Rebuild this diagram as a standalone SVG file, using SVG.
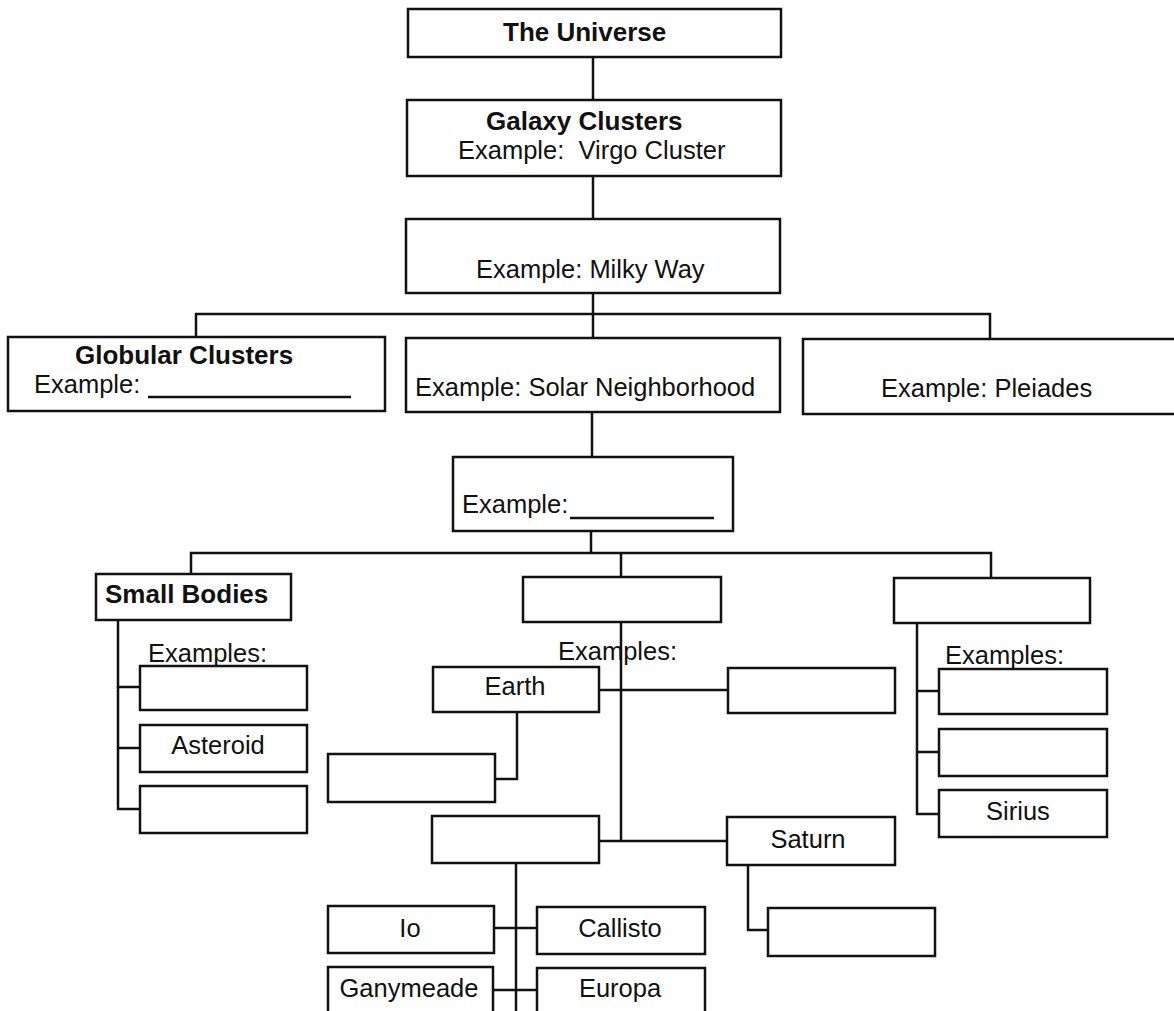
<svg xmlns="http://www.w3.org/2000/svg" width="1174" height="1011" viewBox="0 0 1174 1011">
<style>
rect.n{fill:#fff;stroke:#111;stroke-width:2.5}
line,polyline{stroke:#111;stroke-width:2.5;fill:none}
text{font-family:"Liberation Sans",Arial,sans-serif;font-size:25.5px;fill:#111;white-space:pre}
.b{font-weight:bold;font-size:26px}
.m{text-anchor:middle}
</style>
<rect width="1174" height="1011" fill="#fff"/>
<g id="connectors">
<line x1="593" y1="57" x2="593" y2="100"/>
<line x1="593" y1="176" x2="593" y2="219"/>
<line x1="593" y1="293" x2="593" y2="338"/>
<polyline points="196,337 196,314 990,314 990,339"/>
<line x1="592" y1="412" x2="592" y2="457"/>
<line x1="591" y1="531" x2="591" y2="553"/>
<polyline points="191,574 191,553 991,553 991,578"/>
<line x1="621" y1="553" x2="621" y2="577"/>
<polyline points="140,687 118,687 118,620"/>
<line x1="118" y1="748" x2="140" y2="748"/>
<polyline points="118,687 118,809 140,809"/>
<line x1="621" y1="622" x2="621" y2="841"/>
<line x1="599" y1="690" x2="728" y2="690"/>
<polyline points="517,712 517,779 495,779"/>
<line x1="599" y1="841" x2="727" y2="841"/>
<polyline points="748,865 748,930 768,930"/>
<line x1="516" y1="863" x2="516" y2="1011"/>
<line x1="494" y1="928" x2="537" y2="928"/>
<line x1="493" y1="990" x2="537" y2="990"/>
<polyline points="917,623 917,814 939,814"/>
<line x1="917" y1="691" x2="939" y2="691"/>
<line x1="917" y1="752" x2="939" y2="752"/>
</g>
<g id="universe"><rect class="n" x="408" y="9" width="373" height="48"/><text class="b" x="503" y="41">The Universe</text></g>
<g id="galaxy-clusters"><rect class="n" x="407" y="100" width="374" height="76"/><text class="b" x="486" y="130">Galaxy Clusters</text><text x="458" y="159">Example:  Virgo Cluster</text></g>
<g id="galaxy"><rect class="n" x="406" y="219" width="374" height="74"/><text x="476" y="278">Example: Milky Way</text></g>
<g id="globular"><rect class="n" x="8" y="337" width="377" height="74"/><text class="b" x="75" y="364">Globular Clusters</text><text x="34" y="393">Example: </text><line x1="148" y1="397" x2="351" y2="397"/></g>
<g id="solar-neighborhood"><rect class="n" x="406" y="338" width="374" height="74"/><text x="415" y="396">Example: Solar Neighborhood</text></g>
<g id="open-clusters"><rect class="n" x="803" y="339" width="380" height="75"/><text x="881" y="397">Example: Pleiades</text></g>
<g id="solar-system"><rect class="n" x="453" y="457" width="280" height="74"/><text x="462" y="513">Example:</text><line x1="570" y1="518" x2="714" y2="518"/></g>
<g id="small-bodies"><rect class="n" x="96" y="574" width="195" height="46"/><text class="b" x="105" y="603">Small Bodies</text><text x="148" y="662">Examples:</text></g>
<g id="sb1"><rect class="n" x="140" y="666" width="167" height="44"/></g>
<g id="sb2"><rect class="n" x="140" y="725" width="167" height="47"/><text class="m" x="218" y="754">Asteroid</text></g>
<g id="sb3"><rect class="n" x="140" y="786" width="167" height="47"/></g>
<g id="planets"><rect class="n" x="523" y="577" width="198" height="45"/><text x="558" y="660">Examples:</text></g>
<g id="earth"><rect class="n" x="433" y="667" width="166" height="45"/><text class="m" x="515" y="695">Earth</text></g>
<g id="planet-r1"><rect class="n" x="728" y="668" width="167" height="45"/></g>
<g id="moon"><rect class="n" x="328" y="754" width="167" height="48"/></g>
<g id="jupiter"><rect class="n" x="432" y="816" width="167" height="47"/></g>
<g id="saturn"><rect class="n" x="727" y="817" width="168" height="48"/><text class="m" x="808" y="848">Saturn</text></g>
<g id="titan"><rect class="n" x="768" y="908" width="167" height="48"/></g>
<g id="io"><rect class="n" x="328" y="906" width="166" height="47"/><text class="m" x="410" y="937">Io</text></g>
<g id="callisto"><rect class="n" x="537" y="907" width="168" height="47"/><text class="m" x="620" y="937">Callisto</text></g>
<g id="ganymeade"><rect class="n" x="328" y="967" width="165" height="60"/><text class="m" x="409" y="997">Ganymeade</text></g>
<g id="europa"><rect class="n" x="537" y="968" width="168" height="60"/><text class="m" x="620" y="997">Europa</text></g>
<g id="stars"><rect class="n" x="894" y="578" width="196" height="45"/><text x="945" y="664">Examples:</text></g>
<g id="star1"><rect class="n" x="939" y="669" width="168" height="45"/></g>
<g id="star2"><rect class="n" x="939" y="729" width="168" height="47"/></g>
<g id="sirius"><rect class="n" x="939" y="790" width="168" height="47"/><text class="m" x="1018" y="820">Sirius</text></g>
</svg>
